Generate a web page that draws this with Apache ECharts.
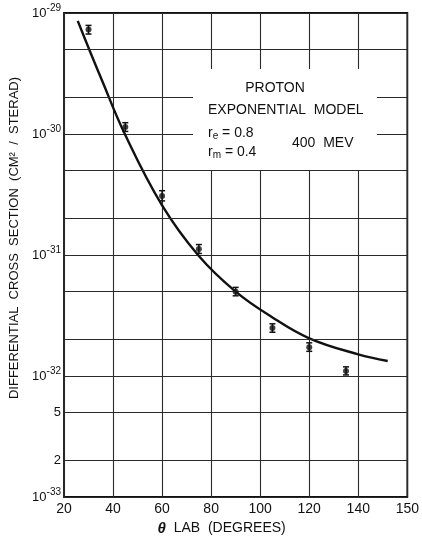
<!DOCTYPE html>
<html>
<head>
<meta charset="utf-8">
<script src="https://cdn.jsdelivr.net/npm/echarts@6/dist/echarts.min.js"></script>
<style>
  html, body { margin: 0; padding: 0; background: #fff; }
  #chart { width: 422px; height: 541px; }
</style>
</head>
<body>
<div id="chart"></div>
<script>
// Measured proton cross sections (cm^2/sterad) with their error limits
const angles = [30, 45, 60, 75, 90, 105, 120, 135];
const sigma = [7.3e-30, 1.14e-30, 3.07e-31, 1.12e-31, 4.98e-32, 2.49e-32, 1.73e-32, 1.10e-32];
const sigmaLow = [6.7e-30, 1.05e-30, 2.8e-31, 1.03e-31, 4.6e-32, 2.3e-32, 1.6e-32, 1.02e-32];
const sigmaHigh = [7.9e-30, 1.24e-30, 3.4e-31, 1.22e-31, 5.4e-32, 2.7e-32, 1.88e-32, 1.19e-32];

// Exponential model curve (r_e = 0.8, r_m = 0.4, 400 MeV)
const curveAngles = [25.6, 30, 35, 45, 60, 75, 90, 105, 120, 140, 152];
const curveSigma = [8.6e-30, 5.16e-30, 2.93e-30, 9.8e-31, 2.57e-31, 9.8e-32, 4.98e-32, 3.05e-32, 2.05e-32, 1.51e-32, 1.33e-32];

// Axis ticks
const xTickValues = [20, 40, 60, 80, 100, 120, 140, 160];
const xTickLabels = ['20', '40', '60', '80', '100', '120', '140', '150'];
const yDecades = [-33, -32, -31, -30, -29];
const minorGrid = [5e-30, 2e-30, 5e-31, 2e-31, 5e-32, 2e-32, 5e-33, 2e-33];
const minorGridLabels = ['', '', '', '', '', '', '5', '2'];

const FONT = '"Liberation Sans", Arial, sans-serif';
const INK = '#111';

const chart = echarts.init(document.getElementById('chart'), null, { renderer: 'canvas' });

const pointData = angles.map((a, i) => [a, Math.log10(sigma[i])]);
const errData = angles.map((a, i) => [a, Math.log10(sigmaLow[i]), Math.log10(sigmaHigh[i])]);
const curveData = curveAngles.map((a, i) => [a, Math.log10(curveSigma[i])]);

chart.setOption({
  animation: false,
  backgroundColor: '#fff',
  grid: {
    left: 64, right: 8, top: 13, bottom: 40,
    show: true, borderColor: INK, borderWidth: 1.8, backgroundColor: 'transparent'
  },
  xAxis: {
    type: 'value',
    min: xTickValues[0],
    max: xTickValues[xTickValues.length - 1],
    interval: 20,
    axisLine: { show: false },
    axisTick: { show: false },
    splitLine: { show: true, lineStyle: { color: '#2a2a2a', width: 1.1 } },
    axisLabel: {
      margin: 5,
      fontFamily: FONT, fontSize: 14, color: INK,
      formatter: v => {
        const i = xTickValues.indexOf(v);
        return i >= 0 ? xTickLabels[i] : '';
      }
    },
    name: '{t|θ}  LAB  (DEGREES)',
    nameLocation: 'middle',
    nameGap: 24,
    nameTextStyle: {
      fontFamily: FONT, fontSize: 14, color: INK,
      padding: [0, 28, 0, 0],
      rich: { t: { fontFamily: FONT, fontSize: 15, fontStyle: 'italic', fontWeight: 'bold', color: INK } }
    }
  },
  yAxis: {
    type: 'value',
    min: yDecades[0],
    max: yDecades[yDecades.length - 1],
    interval: 1,
    axisLine: { show: false },
    axisTick: { show: false },
    splitLine: { show: true, lineStyle: { color: '#2a2a2a', width: 1.1 } },
    axisLabel: {
      margin: 3,
      fontFamily: FONT, color: INK,
      formatter: v => '{b|10}{s|' + v + '}',
      rich: {
        b: { fontFamily: FONT, fontSize: 13, color: INK },
        s: { fontFamily: FONT, fontSize: 10, color: INK, padding: [0, 0, 9, 0] }
      }
    },
    name: 'DIFFERENTIAL  CROSS  SECTION  (CM²  /  STERAD)',
    nameLocation: 'middle',
    nameRotate: 90,
    nameGap: 36,
    nameTextStyle: {
      fontFamily: FONT, fontSize: 13, color: INK,
      padding: [0, 0, 0, 34]
    }
  },
  series: [
    {
      type: 'line',
      name: 'model',
      data: curveData,
      smooth: 0.4,
      showSymbol: false,
      lineStyle: { color: INK, width: 2.4 },
      z: 3,
      markLine: {
        silent: true,
        symbol: 'none',
        animation: false,
        lineStyle: { type: 'solid', color: '#2a2a2a', width: 1.1 },
        label: {
          show: true, position: 'start', distance: 3,
          fontFamily: FONT, fontSize: 13, color: INK,
          formatter: p => minorGridLabels[p.dataIndex]
        },
        emphasis: { disabled: true },
        data: minorGrid.map(v => ({ yAxis: Math.log10(v) }))
      }
    },
    {
      type: 'custom',
      name: 'error',
      data: errData,
      z: 4,
      renderItem: function (params, api) {
        const x = api.value(0);
        const lo = api.coord([x, api.value(1)]);
        const hi = api.coord([x, api.value(2)]);
        const w = 3;
        const style = { stroke: INK, lineWidth: 1.5 };
        return {
          type: 'group',
          children: [
            { type: 'line', shape: { x1: lo[0], y1: lo[1], x2: hi[0], y2: hi[1] }, style },
            { type: 'line', shape: { x1: lo[0] - w, y1: lo[1], x2: lo[0] + w, y2: lo[1] }, style },
            { type: 'line', shape: { x1: hi[0] - w, y1: hi[1], x2: hi[0] + w, y2: hi[1] }, style }
          ]
        };
      }
    },
    {
      type: 'scatter',
      name: 'data',
      data: pointData,
      symbol: 'circle',
      symbolSize: 6,
      itemStyle: { color: INK },
      z: 5
    }
  ],
  graphic: [
    { type: 'rect', z: 100, shape: { x: 193, y: 69, width: 184, height: 101 }, style: { fill: '#fff' } },
    { type: 'text', z: 101, x: 275, y: 88,
      style: { text: 'PROTON', fill: INK, font: '14px ' + FONT, align: 'center', verticalAlign: 'middle' } },
    { type: 'text', z: 101, x: 208, y: 110,
      style: { text: 'EXPONENTIAL  MODEL', fill: INK, font: '14px ' + FONT, align: 'left', verticalAlign: 'middle' } },
    { type: 'text', z: 101, x: 208, y: 133,
      style: {
        text: '{r|r}{u|e}{r| = 0.8}', align: 'left', verticalAlign: 'middle',
        rich: {
          r: { fontFamily: FONT, fontSize: 14, fill: INK },
          u: { fontFamily: FONT, fontSize: 10, fill: INK, padding: [7, 0, 0, 0] }
        }
      } },
    { type: 'text', z: 101, x: 208, y: 152,
      style: {
        text: '{r|r}{u|m}{r| = 0.4}', align: 'left', verticalAlign: 'middle',
        rich: {
          r: { fontFamily: FONT, fontSize: 14, fill: INK },
          u: { fontFamily: FONT, fontSize: 10, fill: INK, padding: [7, 0, 0, 0] }
        }
      } },
    { type: 'text', z: 101, x: 292, y: 143,
      style: { text: '400  MEV', fill: INK, font: '14px ' + FONT, align: 'left', verticalAlign: 'middle' } }
  ]
});
</script>
</body>
</html>
